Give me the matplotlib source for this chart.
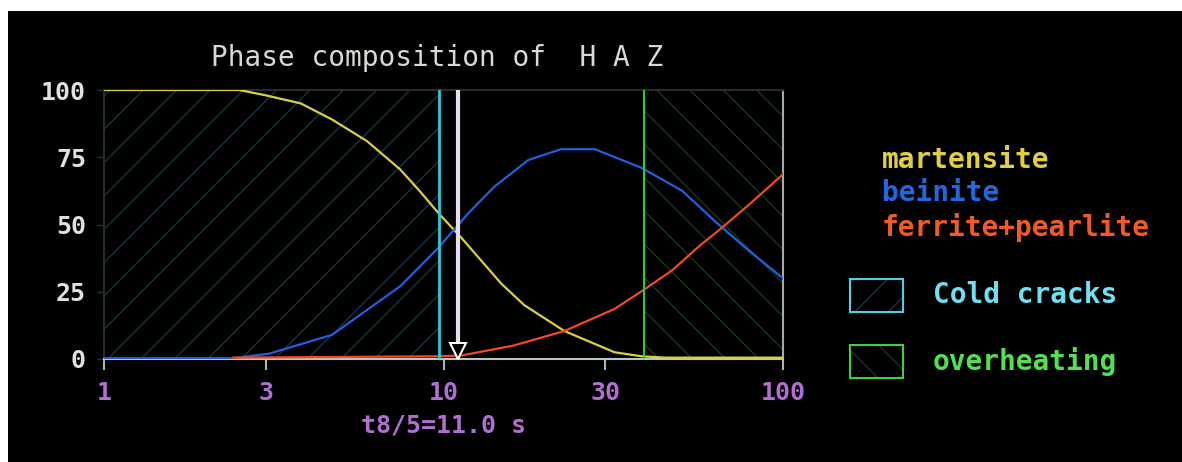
import numpy as np
import matplotlib
matplotlib.use('Agg')
import matplotlib.pyplot as plt
from matplotlib.patches import Rectangle

# phase fractions (%) vs cooling time t8/5 (s)
mart_t = [1, 2.5, 3.0, 3.8, 4.7, 5.95, 7.45, 8.5, 9.7, 11.3, 14.8, 17.3, 22.7, 31.9, 38.4, 45, 100]
mart_v = [100, 100, 98, 95, 89, 81, 70.5, 62.5, 54, 45, 28, 20, 10.4, 2.5, 1, 0.5, 0.5]

bein_t = [1, 2.4, 3.07, 4.7, 7.45, 9.6, 11.8, 14.1, 17.8, 22.2, 27.9, 38.4, 50.5, 63.3, 79.8, 100]
bein_v = [0.3, 0.3, 2, 9, 27, 41, 54, 64, 74, 78, 78, 71, 62.5, 51, 40, 30]

fp_t = [2.4, 9.5, 11.3, 16.1, 22.7, 31.9, 39.2, 47.2, 56.7, 66.4, 79.8, 100]
fp_v = [0.5, 1, 1.3, 5, 10.4, 18.6, 26, 33, 42, 49, 57.6, 68.7]

t85 = 11.0
cold_limit = 9.7
overheat_limit = 38.9

xticks = [1, 3, 10, 30, 100]
yticks = [0, 25, 50, 75, 100]

W, H = 1182, 462
mono = 'DejaVu Sans Mono'

fig = plt.figure(figsize=(W / 100, H / 100), dpi=100, facecolor='black')
# white border of the photo
fig.patches.append(Rectangle((0, 1 - 11 / H), 1, 11 / H, transform=fig.transFigure,
                             facecolor='white', edgecolor='none'))
fig.patches.append(Rectangle((0, 0), 8 / W, 1, transform=fig.transFigure,
                             facecolor='white', edgecolor='none'))

ax = fig.add_axes([104 / W, 1 - 359 / H, (783 - 104) / W, (359 - 90) / H])
ax.set_facecolor('black')
ax.set_xscale('log')
ax.set_xlim(1, 100)
ax.set_ylim(0, 100)

# hatched zones
ax.axvspan(1, cold_limit, fill=False, hatch='/', edgecolor='#15363c', linewidth=0)
ax.axvspan(overheat_limit, 100, fill=False, hatch='\\', edgecolor='#16381a', linewidth=0)

ax.plot(mart_t, mart_v, color='#d8d040', lw=1.6, zorder=3)
ax.plot(bein_t, bein_v, color='#2060e0', lw=1.6, zorder=3)
ax.plot(fp_t, fp_v, color='#f04a20', lw=1.6, zorder=3)

ax.axvline(cold_limit, color='#30c8d8', lw=2, zorder=4)
ax.axvline(overheat_limit, color='#30c830', lw=1.5, zorder=4)
ax.axvline(t85, color='#e8dcf0', lw=3, zorder=5)
ax.plot([t85], [3], marker='v', ms=12, mfc='black', mec='white', mew=1.5, zorder=6)

for s in ['top', 'left']:
    ax.spines[s].set_color('#242c30')
ax.spines['bottom'].set_color('#b8c4c4')
ax.spines['right'].set_color('#a8a8a8')
for s in ax.spines.values():
    s.set_linewidth(1.5)

ax.set_xticks(xticks)
ax.set_xticklabels([str(v) for v in xticks])
ax.minorticks_off()
ax.set_yticks(yticks)
ax.tick_params(axis='x', colors='#a8b8b8', length=8, width=1.5, pad=8,
               labelcolor='#b070d0', labelsize=18)
ax.tick_params(axis='y', colors='#2a3338', length=5, width=1, pad=8,
               labelcolor='#e0e0dc', labelsize=18)
for lab in ax.get_xticklabels() + ax.get_yticklabels():
    lab.set_family(mono)
    lab.set_weight('bold')

ax.set_xlabel('t8/5=%.1f s' % t85, color='#b070d0', fontsize=18, family=mono,
              fontweight='bold', labelpad=6)

fig.text(437 / W, 1 - 58 / H, 'Phase composition of  H A Z', color='#d8d8d4',
         fontsize=20, family=mono, ha='center', va='center')

# legend
fig.text(882 / W, 1 - 160 / H, 'martensite', color='#e0d040', fontsize=20,
         family=mono, fontweight='bold', va='center')
fig.text(882 / W, 1 - 193 / H, 'beinite', color='#2068e0', fontsize=20,
         family=mono, fontweight='bold', va='center')
fig.text(882 / W, 1 - 228 / H, 'ferrite+pearlite', color='#f05a28', fontsize=20,
         family=mono, fontweight='bold', va='center')

fig.patches.append(Rectangle((850 / W, 1 - 312 / H), 53 / W, 33 / H, transform=fig.transFigure,
                             facecolor='none', edgecolor='#15363c', hatch='/', lw=0))
fig.patches.append(Rectangle((850 / W, 1 - 312 / H), 53 / W, 33 / H, transform=fig.transFigure,
                             facecolor='none', edgecolor='#50d0e0', lw=1.5))
fig.text(933 / W, 1 - 295 / H, 'Cold cracks', color='#70e0f0', fontsize=20,
         family=mono, fontweight='bold', va='center')

fig.patches.append(Rectangle((850 / W, 1 - 378 / H), 53 / W, 33 / H, transform=fig.transFigure,
                             facecolor='none', edgecolor='#16381a', hatch='\\', lw=0))
fig.patches.append(Rectangle((850 / W, 1 - 378 / H), 53 / W, 33 / H, transform=fig.transFigure,
                             facecolor='none', edgecolor='#40d040', lw=1.5))
fig.text(933 / W, 1 - 362 / H, 'overheating', color='#50e050', fontsize=20,
         family=mono, fontweight='bold', va='center')

fig.savefig('out.png', dpi=100, facecolor='black')
